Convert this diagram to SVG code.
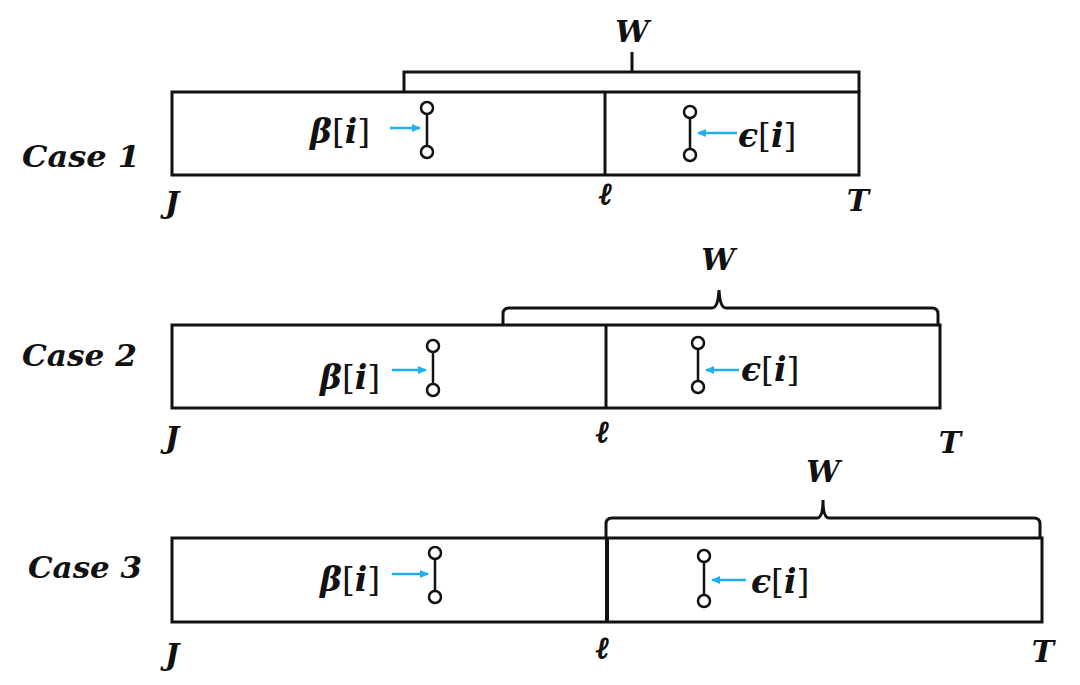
<svg xmlns="http://www.w3.org/2000/svg" width="1080" height="685" viewBox="0 0 1080 685">
<defs>
<marker id="ah" markerWidth="10" markerHeight="10" refX="8" refY="5" orient="auto" markerUnits="userSpaceOnUse">
<path d="M0,1 L9,5 L0,9 Z" fill="#1fb0ea"/>
</marker>
</defs>
<style>
.box{fill:none;stroke:#111;stroke-width:3}
.br{fill:none;stroke:#111;stroke-width:3;stroke-linejoin:miter}
.dv{stroke:#111;stroke-width:3}
.db{stroke:#111;stroke-width:2.5;fill:none}
.dc{stroke:#111;stroke-width:2.5;fill:#fff}
.ar{stroke:#1fb0ea;stroke-width:2.5;fill:none;marker-end:url(#ah)}
.lb{font-family:"DejaVu Serif","Liberation Serif",serif;font-weight:bold;font-style:italic;font-size:30px;fill:#111}
.mt{font-family:"DejaVu Serif","Liberation Serif",serif;font-size:33px;fill:#111}
.bi{font-weight:bold;font-style:italic}
.up{font-weight:normal;font-style:normal}
.ax{font-family:"DejaVu Serif","Liberation Serif",serif;font-weight:bold;font-style:italic;font-size:30px;fill:#111}
.el{font-family:"DejaVu Serif","Liberation Serif",serif;font-style:italic;font-size:30px;fill:#111;stroke:#111;stroke-width:1.2}
</style>

<g id="case1">
<text class="lb" x="22" y="167" textLength="118" lengthAdjust="spacingAndGlyphs">Case 1</text>
<rect class="box" x="172" y="92" width="687" height="83"/>
<line class="dv" x1="605" y1="92" x2="605" y2="175"/>
<path class="br" d="M404,92 V72 H859 V92 M632,72 V52"/>
<text class="ax" x="632" y="42" text-anchor="middle">W</text>
<text class="mt" x="310" y="143"><tspan class="bi">β</tspan><tspan class="up">[</tspan><tspan class="bi">i</tspan><tspan class="up">]</tspan></text>
<line class="db" x1="427" y1="108" x2="427" y2="152"/>
<circle class="dc" cx="427" cy="108" r="6"/>
<circle class="dc" cx="427" cy="152" r="6"/>
<line class="db" x1="690" y1="112" x2="690" y2="155"/>
<circle class="dc" cx="690" cy="112" r="6"/>
<circle class="dc" cx="690" cy="155" r="6"/>
<text class="mt" x="738" y="147"><tspan class="bi">ϵ</tspan><tspan class="up">[</tspan><tspan class="bi">i</tspan><tspan class="up">]</tspan></text>
<text class="ax" x="172" y="213" text-anchor="middle">J</text>
<text class="el" x="605" y="204" text-anchor="middle">ℓ</text>
<text class="ax" x="858" y="211" text-anchor="middle">T</text>
</g>

<g id="case2">
<text class="lb" x="22" y="366" textLength="115" lengthAdjust="spacingAndGlyphs">Case 2</text>
<rect class="box" x="172" y="325" width="768" height="83"/>
<line class="dv" x1="606" y1="325" x2="606" y2="408"/>
<path class="br" d="M503,325 V314 Q503,308 509,308 H712 Q718,308 719,290 Q720,308 726,308 H932 Q938,308 938,314 V325"/>
<text class="ax" x="718" y="270" text-anchor="middle">W</text>
<text class="mt" x="320" y="389"><tspan class="bi">β</tspan><tspan class="up">[</tspan><tspan class="bi">i</tspan><tspan class="up">]</tspan></text>
<line class="db" x1="433" y1="346" x2="433" y2="390"/>
<circle class="dc" cx="433" cy="346" r="6"/>
<circle class="dc" cx="433" cy="390" r="6"/>
<line class="db" x1="698" y1="343" x2="698" y2="387"/>
<circle class="dc" cx="698" cy="343" r="6"/>
<circle class="dc" cx="698" cy="387" r="6"/>
<text class="mt" x="741" y="381"><tspan class="bi">ϵ</tspan><tspan class="up">[</tspan><tspan class="bi">i</tspan><tspan class="up">]</tspan></text>
<text class="ax" x="172" y="448" text-anchor="middle">J</text>
<text class="el" x="602" y="442" text-anchor="middle">ℓ</text>
<text class="ax" x="950" y="453" text-anchor="middle">T</text>
</g>

<g id="case3">
<text class="lb" x="28" y="578" textLength="114" lengthAdjust="spacingAndGlyphs">Case 3</text>
<rect class="box" x="172" y="538" width="870" height="84"/>
<line class="dv" x1="607" y1="538" x2="607" y2="622" style="stroke-width:4"/>
<path class="br" d="M606,538 V524 Q606,518 612,518 H817 Q823,518 823,500 Q823,518 829,518 H1034 Q1040,518 1040,524 V538"/>
<text class="ax" x="823" y="482" text-anchor="middle">W</text>
<text class="mt" x="320" y="591"><tspan class="bi">β</tspan><tspan class="up">[</tspan><tspan class="bi">i</tspan><tspan class="up">]</tspan></text>
<line class="db" x1="435" y1="553" x2="435" y2="597"/>
<circle class="dc" cx="435" cy="553" r="6"/>
<circle class="dc" cx="435" cy="597" r="6"/>
<line class="db" x1="704" y1="556" x2="704" y2="601"/>
<circle class="dc" cx="704" cy="556" r="6"/>
<circle class="dc" cx="704" cy="601" r="6"/>
<text class="mt" x="751" y="593"><tspan class="bi">ϵ</tspan><tspan class="up">[</tspan><tspan class="bi">i</tspan><tspan class="up">]</tspan></text>
<text class="ax" x="172" y="665" text-anchor="middle">J</text>
<text class="el" x="602" y="658" text-anchor="middle">ℓ</text>
<text class="ax" x="1043" y="662" text-anchor="middle">T</text>
</g>

<g id="connectors">
<line class="ar" x1="390" y1="128" x2="420" y2="128"/>
<line class="ar" x1="737" y1="133" x2="698" y2="133"/>
<line class="ar" x1="392" y1="370" x2="426" y2="370"/>
<line class="ar" x1="739" y1="370" x2="706" y2="370"/>
<line class="ar" x1="392" y1="574" x2="428" y2="574"/>
<line class="ar" x1="746" y1="580" x2="712" y2="580"/>
</g>
</svg>
